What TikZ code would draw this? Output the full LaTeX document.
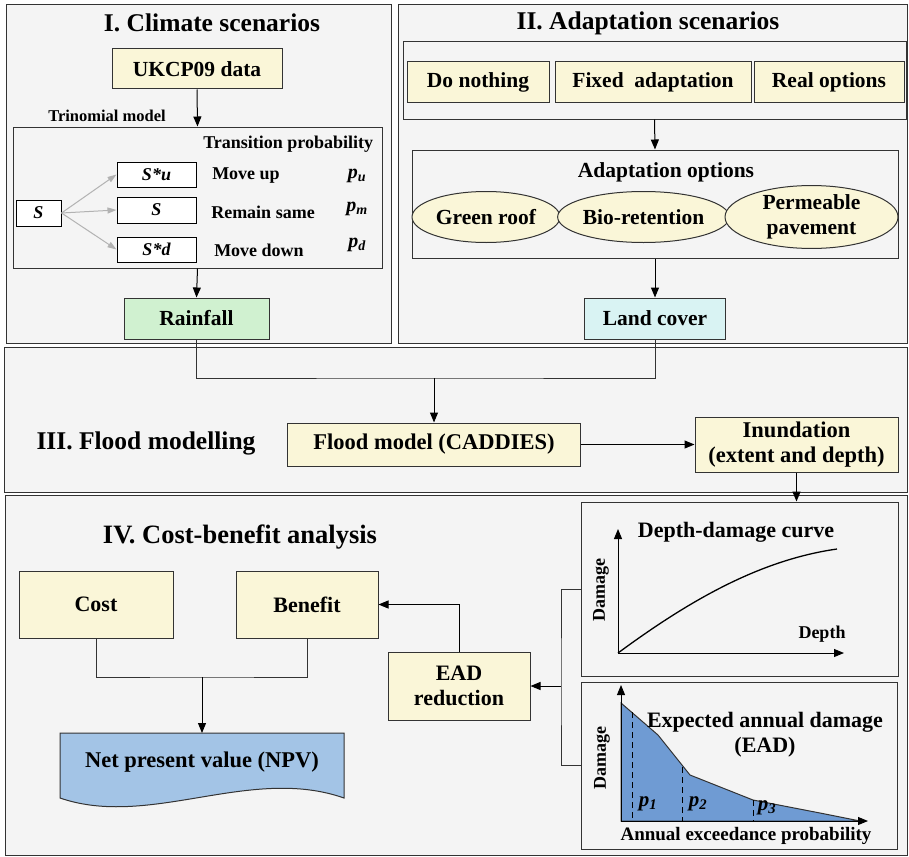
\documentclass[tikz,border=0pt]{standalone}
\usepackage{fontspec}
\setmainfont{Liberation Serif}
\usetikzlibrary{arrows.meta,shapes.geometric}

\definecolor{panelgray}{HTML}{F4F4F4}
\definecolor{boxyellow}{HTML}{FAF6D8}
\definecolor{boxgreen}{HTML}{D0F1D0}
\definecolor{boxcyan}{HTML}{D9F3F3}
\definecolor{npvblue}{HTML}{A3C4E6}
\definecolor{eadblue}{HTML}{6F9BD3}
\definecolor{linegray}{HTML}{333333}
\newcommand{\fsz}[1]{\bfseries\fontsize{#1}{25}\selectfont}

\begin{document}
\begin{tikzpicture}[x=1pt,y=-1pt,line width=1pt]

    \tikzset{panel/.style={draw=linegray,fill=panelgray},
        box/.style={draw=linegray,fill=boxyellow,inner sep=0pt,align=center,font=\fsz{21.5}},
        smallbox/.style={draw=black,fill=white,inner sep=0pt,font=\fsz{18}\itshape},
        oval/.style={draw=linegray,fill=boxyellow,shape=ellipse,inner sep=0pt,align=center,font=\fsz{21.5}},
        frame/.style={draw=linegray,inner sep=0pt},
        title/.style={font=\fsz{25.5}},
        label/.style={font=\fsz{18}},
        arr/.style={-{Triangle[length=10pt,width=8pt]},black}}

    \fill[white] (0,0) rectangle (909,856);
    \useasboundingbox (0,0) rectangle (909,856);

    % panels
    \draw[panel] (6,5) rectangle (391,343);
    \draw[panel] (398,5) rectangle (907,343);
    \draw[panel] (4,347) rectangle (907,492);
    \draw[panel] (5,495) rectangle (907,855);

    % I. Climate scenarios
    \node[title] (t1) at (212,23) {I. Climate scenarios};
    \node[box,minimum width=170,minimum height=40] (ukcp) at (197,69) {UKCP09 data};
    \node[label,font=\fsz{16.5}] (trinlab) at (107,116) {Trinomial model};
    \node[frame,minimum width=369,minimum height=141] (trin) at (197.5,197.5) {};
    \node[label,anchor=east] (transp) at (377,144) {Transition probability};
    \node[smallbox,minimum width=45,minimum height=26] (s0) at (38.5,213) {S};
    \node[smallbox,minimum width=79,minimum height=25] (su) at (156.5,174.5) {S*u};
    \node[smallbox,minimum width=79,minimum height=26] (sm) at (156.5,210) {S};
    \node[smallbox,minimum width=79,minimum height=25] (sd) at (156.5,249.5) {S*d};
    \node[label] (mup) at (246,176) {Move up};
    \node[label] (msame) at (263,212) {Remain same};
    \node[label] (mdown) at (259,250) {Move down};
    \node[label,font=\fsz{20}\itshape] (pu) at (357,176) {p\textsubscript{u}};
    \node[label,font=\fsz{20}\itshape] (pm) at (357,209) {p\textsubscript{m}};
    \node[label,font=\fsz{20}\itshape] (pd) at (357,245) {p\textsubscript{d}};
    \node[box,fill=boxgreen,minimum width=145,minimum height=41] (rain) at (196.5,318.5) {Rainfall};

    \begin{scope}[every path/.style={-{Triangle[length=9pt,width=6pt]},draw=black!30,line width=1pt}]
        \draw (s0.east) -- (su.west);
        \draw (s0.east) -- (sm.west);
        \draw (s0.east) -- (sd.west);
    \end{scope}

    % II. Adaptation scenarios
    \node[title] (t2) at (648,23) {II. Adaptation scenarios};
    \node[frame,minimum width=503,minimum height=77] (scen) at (654.5,80.5) {};
    \node[box,minimum width=142,minimum height=41] (nothing) at (478,82.5) {Do nothing};
    \node[box,minimum width=196,minimum height=41] (fixed) at (653,82.5) {Fixed\ \ adaptation};
    \node[box,minimum width=150,minimum height=41] (real) at (829,82.5) {Real options};
    \node[frame,minimum width=486,minimum height=108] (opts) at (655,204) {};
    \node[font=\fsz{21.5}] (optlab) at (666,172) {Adaptation options};
    \node[oval,minimum width=148,minimum height=51] (groof) at (486,217) {Green roof};
    \node[oval,minimum width=161,minimum height=51] (bio) at (643.5,217) {Bio-retention};
    \node[oval,minimum width=173,minimum height=51] (perm) at (811.5,217) {Permeable\\pavement};
    \node[box,fill=boxcyan,minimum width=141,minimum height=41] (land) at (655,318.5) {Land cover};

    % III. Flood modelling
    \node[title] (t3) at (146,443) {III. Flood modelling};
    \node[box,font=\fsz{22.5},minimum width=293,minimum height=43] (flood) at (434,444.5) {Flood model (CADDIES)};
    \node[box,font=\fsz{22.5},minimum width=203,minimum height=55] (inund) at (796.5,444.5) {Inundation\\(extent and depth)};
    \coordinate (join) at (434,378);

    % IV. Cost-benefit analysis
    \node[title,font=\fsz{26.5}] (t4) at (240,537) {IV. Cost-benefit analysis};
    \node[box,font=\fsz{22},minimum width=154,minimum height=67] (cost) at (96,604.5) {Cost};
    \node[box,font=\fsz{22},minimum width=142,minimum height=67] (benefit) at (307,604.5) {Benefit};
    \coordinate (join2) at (202,677);
    \draw[draw=linegray,fill=npvblue] (60,733) -- (344,733) -- (344,798)
        .. controls (250,765) and (150,829) .. (60,798) -- cycle;
    \coordinate (npvtop) at (202,733);
    \node[font=\fsz{22.5}] (npv) at (202,762) {Net present value (NPV)};
    \node[box,font=\fsz{22},minimum width=142,minimum height=68] (ead) at (459,686) {EAD\\reduction};
    \node[frame,minimum width=317,minimum height=174] (ddbox) at (739.5,589) {};
    \node[frame,minimum width=316,minimum height=167] (eadbox) at (739,765.5) {};
    \coordinate (brk) at (561,686);

    % depth-damage curve
    \coordinate (o1) at (618,653);
    \draw[arr] (o1) -- (618,529);
    \draw[arr] (o1) -- (844,653);
    \draw[line width=1.3pt] (o1) .. controls (690,600) and (760,560) .. (837,549);
    \node[font=\fsz{22}] (ddlab) at (736,532) {Depth-damage curve};
    \node[label,rotate=90] (dmg1) at (601,590) {Damage};
    \node[label] (depth) at (822,634) {Depth};

    % expected annual damage
    \coordinate (o2) at (621,821);
    \draw[draw=linegray,fill=eadblue] (o2) -- (621,703) -- (658,735) -- (690,775)
        -- (753,800) -- (820,813) -- (860,821) -- cycle;
    \draw[arr] (o2) -- (621,685);
    \draw[arr] (o2) -- (868,821);
    \draw[dashed,dash pattern=on 6pt off 4pt] (632,712) -- (632,821);
    \draw[dashed,dash pattern=on 6pt off 4pt] (682,767) -- (682,821);
    \draw[dashed,dash pattern=on 6pt off 4pt] (753,800) -- (753,821);
    \node[font=\fsz{21}\itshape] (p1) at (648,804) {p\textsubscript{1}};
    \node[font=\fsz{21}\itshape] (p2) at (698,804) {p\textsubscript{2}};
    \node[font=\fsz{21}\itshape] (p3) at (767,808) {p\textsubscript{3}};
    \node[font=\fsz{22},align=center] (eadlab) at (765,735) {Expected annual damage\\(EAD)};
    \node[label,rotate=90] (dmg2) at (602,758) {Damage};
    \node[label,font=\fsz{19}] (aep) at (746,836) {Annual exceedance probability};

    % connectors
    \begin{scope}[every path/.style={draw=linegray,line width=1pt}]
        \draw (rain.south) |- (join) -| (land.south);
        \draw (cost.south) |- (join2) -| (benefit.south);
        \draw (ddbox.west) -| (brk) |- (eadbox.west);
    \end{scope}
    \begin{scope}[every path/.style={arr,draw=black,line width=1pt}]
        \draw (ukcp.south) -- (trin.north);
        \draw (trin.south) -- (rain.north);
        \draw (scen.south) -- (opts.north);
        \draw (opts.south) -- (land.north);
        \draw (join) -- (flood.north);
        \draw (flood.east) -- (inund.west);
        \draw (inund.south) -- (inund.south |- ddbox.north);
        \draw (join2) -- (npvtop);
        \draw (ead.north) |- (benefit.east);
        \draw (brk) -- (ead.east);
    \end{scope}
\end{tikzpicture}
\end{document}
